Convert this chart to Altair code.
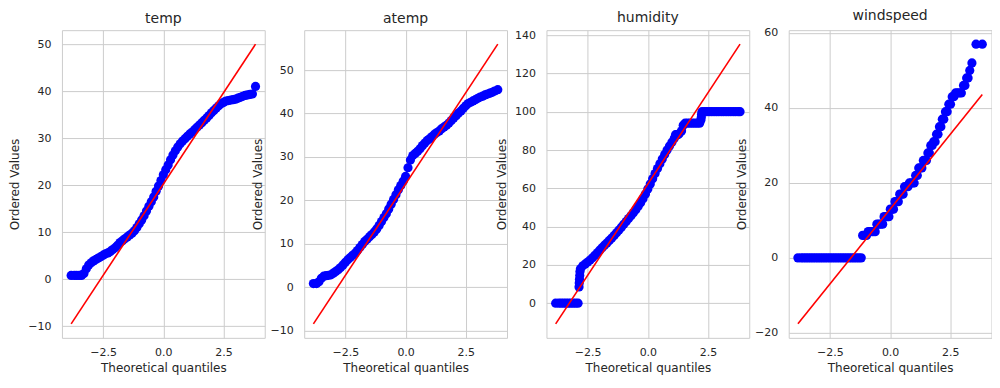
import altair as alt
import pandas as pd

FONT = "DejaVu Sans"
TXT = "#262626"
GRID = "#cccccc"

# ---------------- data ----------------
# theoretical quantiles shared by the temp / atemp panels
Q_STD = [-3.83, -3.7, -3.6, -3.5, -3.4, -3.3, -3.2, -3.1, -3.0, -2.9, -2.8, -2.7, -2.6,
         -2.5, -2.4, -2.3, -2.2, -2.1, -2.0, -1.9, -1.8, -1.7, -1.6, -1.5, -1.4, -1.3,
         -1.2, -1.1, -1.0, -0.9, -0.8, -0.7, -0.6, -0.5, -0.4, -0.3, -0.2, -0.1, 0.0,
         0.1, 0.2, 0.3, 0.4, 0.5, 0.6, 0.7, 0.8, 0.9, 1.0, 1.1, 1.2, 1.3, 1.4, 1.5,
         1.6, 1.7, 1.8, 1.9, 2.0, 2.1, 2.2, 2.3, 2.4, 2.5, 2.6, 2.7, 2.8, 2.9, 3.0,
         3.1, 3.2, 3.3, 3.4, 3.5, 3.6, 3.7, 3.83]

temp_v = [0.8, 0.8, 0.8, 0.8, 0.8, 1.2, 2.2, 3.0, 3.5, 3.9, 4.2, 4.5, 4.8,
          5.1, 5.4, 5.6, 5.9, 6.3, 6.7, 7.2, 7.8, 8.2, 8.6, 9.0, 9.4, 9.8,
          10.3, 11.0, 11.8, 12.6, 13.5, 14.5, 15.5, 16.5, 17.5, 18.7, 19.8, 21.0, 22.2,
          23.3, 24.3, 25.4, 26.4, 27.3, 28.1, 28.8, 29.4, 29.9, 30.4, 30.9, 31.3, 31.8, 32.3, 32.8,
          33.3, 33.8, 34.3, 34.8, 35.4, 35.9, 36.4, 36.9, 37.3, 37.6, 37.9, 38.0, 38.1, 38.2, 38.3,
          38.5, 38.7, 38.9, 39.1, 39.2, 39.3, 39.4, 41.0]

atemp_v = [0.8, 0.8, 1.2, 2.0, 2.5, 2.6, 2.7, 2.8, 3.2, 3.6, 4.0, 4.5, 5.1,
           5.7, 6.3, 6.8, 7.3, 7.8, 8.4, 9.1, 9.8, 10.5, 11.0, 11.6, 12.1, 12.7,
           13.4, 14.2, 15.1, 16.0, 16.9, 18.0, 19.1, 20.2, 21.3, 22.4, 23.4, 24.4, 25.5,
           27.5, 29.3, 30.3, 30.8, 31.3, 31.9, 32.6, 33.2, 33.8, 34.2, 34.7, 35.2, 35.6, 36.0, 36.5,
           36.9, 37.3, 37.8, 38.4, 39.0, 39.5, 40.1, 40.6, 41.2, 41.8, 42.3, 42.6, 42.9, 43.2, 43.5,
           43.8, 44.0, 44.3, 44.5, 44.7, 44.9, 45.2, 45.5]

hum_q = [-3.83, -3.7, -3.6, -3.5, -3.4, -3.3, -3.2, -3.1, -3.0, -2.9,
         -2.86, -2.85, -2.84, -2.83, -2.82, -2.8,
         -2.7, -2.6, -2.5, -2.4, -2.3, -2.2, -2.1, -2.0, -1.9, -1.8, -1.7, -1.6, -1.5,
         -1.4, -1.3, -1.2, -1.1, -1.0, -0.9, -0.8, -0.7, -0.6, -0.5, -0.4, -0.3, -0.2,
         -0.1, 0.0, 0.1, 0.2, 0.3, 0.4, 0.5, 0.6, 0.7, 0.8, 0.9, 1.0, 1.1,
         1.15, 1.2, 1.25, 1.3, 1.4, 1.47, 1.55, 1.65, 1.75, 1.85, 1.95, 2.05, 2.15,
         2.2, 2.22, 2.23, 2.25,
         2.35, 2.45, 2.55, 2.65, 2.75, 2.85, 2.95, 3.05, 3.15, 3.25, 3.35, 3.45,
         3.55, 3.65, 3.75, 3.83]
hum_v = [0, 0, 0, 0, 0, 0, 0, 0, 0, 0,
         8.5, 10.5, 12.5, 14.5, 16.5, 18,
         19.5, 20.5, 21.5, 22.5, 23.7, 25, 26.3, 27.7, 29, 30.3, 31.5, 32.8, 34,
         35.4, 36.8, 38.2, 39.7, 41.2, 42.7, 44.2, 45.7, 47.2, 48.8, 50.6, 52.5, 54.6,
         57, 59.6, 62.3, 65, 67.7, 70.3, 72.8, 75.3, 77.7, 80, 82.1, 84, 86.2,
         88, 88, 88, 88.5, 90, 93, 94, 94, 94, 94, 94, 94, 94,
         95.5, 97, 98.5, 100,
         100, 100, 100, 100, 100, 100, 100, 100, 100, 100, 100, 100,
         100, 100, 100, 100]

# windspeed is discrete: each level with the quantiles of its points
wind_levels = [0, 6, 7, 9, 11, 13, 15, 17, 19, 20, 22, 24, 26, 28, 30, 31, 33,
               35, 37, 39, 41, 43, 44, 46, 48, 50, 52, 57]
wind_q = [
    [-3.83, -3.7, -3.6, -3.5, -3.4, -3.3, -3.2, -3.1, -3.0, -2.9, -2.8, -2.7, -2.6,
     -2.5, -2.4, -2.3, -2.2, -2.1, -2.0, -1.9, -1.8, -1.7, -1.6, -1.5, -1.4, -1.3, -1.2],
    [-1.14, -1.06, -0.98],
    [-0.91, -0.84, -0.77, -0.70, -0.62],
    [-0.55, -0.47, -0.39, -0.31],
    [-0.25, -0.18, -0.11, -0.05],
    [0.01, 0.08, 0.14],
    [0.2, 0.27, 0.34],
    [0.4, 0.47, 0.54],
    [0.6, 0.67, 0.74],
    [0.8, 0.87, 0.94, 1.0],
    [1.06, 1.13],
    [1.19, 1.26, 1.32],
    [1.38, 1.45, 1.51],
    [1.57, 1.63],
    [1.69, 1.75],
    [1.81, 1.87],
    [1.93, 1.99],
    [2.05, 2.11],
    [2.17, 2.23],
    [2.3, 2.37],
    [2.44, 2.51],
    [2.58, 2.65],
    [2.72, 2.8, 2.88, 2.96],
    [3.05, 3.11],
    [3.18, 3.24],
    [3.31],
    [3.4],
    [3.57, 3.83],
]

# fitted red lines (end points)
LINE_Q = [-3.83, 3.83]
temp_line = [-9.5, 50.0]
atemp_line = [-8.5, 56.0]
hum_line = [-10.8, 135.3]
wind_line = [-17.6, 43.6]

X_DOMAIN = [-4.213, 4.213]
X_TICKS = [-2.5, 0.0, 2.5]

wq, wv = [], []
for lev, qs in zip(wind_levels, wind_q):
    for q in qs:
        wq.append(q)
        wv.append(lev)

panels = [
    ("temp", Q_STD, temp_v, temp_line, [-12.475, 52.975], [-10, 0, 10, 20, 30, 40, 50]),
    ("atemp", Q_STD, atemp_v, atemp_line, [-11.725, 59.225], [-10, 0, 10, 20, 30, 40, 50]),
    ("humidity", hum_q, hum_v, hum_line, [-18.1, 142.6], [0, 20, 40, 60, 80, 100, 120, 140]),
    ("windspeed", wq, wv, wind_line, [-21.33, 60.73], [-20, -10, 0, 10, 20, 30, 40, 50, 60]),
]


def panel(title, q, v, line_v, ydom, yticks):
    assert len(q) == len(v), title
    pts = pd.DataFrame({"q": q, "v": v})
    ln = pd.DataFrame({"q": LINE_Q, "v": line_v})
    x = alt.X("q:Q",
              scale=alt.Scale(domain=X_DOMAIN, nice=False, zero=False),
              axis=alt.Axis(values=X_TICKS, format=".1f", title="Theoretical quantiles"))
    y = alt.Y("v:Q",
              scale=alt.Scale(domain=ydom, nice=False, zero=False),
              axis=alt.Axis(values=yticks, format="d", title="Ordered Values"))
    p = alt.Chart(pts).mark_circle(size=85, color="#0000ff", opacity=1, clip=True).encode(x=x, y=y)
    l = alt.Chart(ln).mark_line(color="#ff0000", strokeWidth=1.6, clip=True).encode(x="q:Q", y="v:Q")
    return alt.layer(p, l).properties(
        width=203, height=308,
        title=alt.TitleParams(title, font=FONT, fontSize=14, fontWeight="normal",
                              color=TXT, anchor="middle", offset=4),
    )


chart = alt.hconcat(*[panel(*p) for p in panels], spacing=39.5, bounds="flush").properties(
    padding={"left": 0, "top": 0, "right": 0, "bottom": 0}
).configure_view(
    stroke=GRID, strokeWidth=1
).configure_axis(
    grid=True, gridColor=GRID, gridWidth=1, domain=False, ticks=False,
    labelFont=FONT, labelFontSize=11, labelColor=TXT,
    titleFont=FONT, titleFontSize=12, titleFontWeight="normal", titleColor=TXT,
).configure_axisX(
    labelPadding=9, titlePadding=5
).configure_axisY(
    labelPadding=11, titlePadding=6
)

chart.save("out.html", embed_options={"renderer": "svg", "actions": False})
